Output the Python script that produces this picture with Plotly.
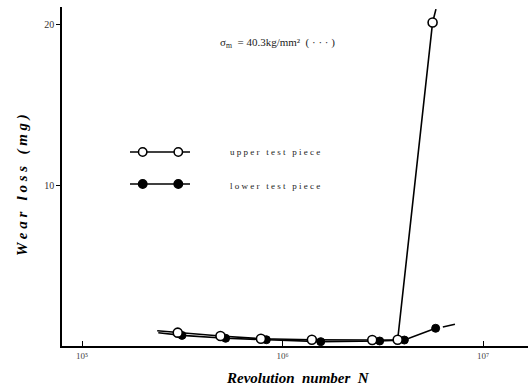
import plotly.graph_objects as go

# Data
upper_N = [3.0e5, 4.9e5, 7.8e5, 1.4e6, 2.8e6, 3.75e6, 5.6e6]
upper_W = [0.83, 0.62, 0.45, 0.39, 0.37, 0.39, 20.1]
lower_N = [3.15e5, 5.2e5, 8.3e5, 1.55e6, 3.05e6, 4.05e6, 5.8e6]
lower_W = [0.66, 0.48, 0.39, 0.27, 0.31, 0.37, 1.10]

# line extensions beyond the measured points
upper_start = (2.37e5, 0.95)
upper_end = (5.82e6, 20.93)
lower_start = (2.4e5, 0.82)
lower_dash = ([6.3e6, 7.24e6], [1.18, 1.35])

x_ticks = [1e5, 1e6, 1e7]
x_tick_text = ["10⁵", "10⁶", "10⁷"]
y_ticks = [10, 20]

serif = "Liberation Serif, Times New Roman, serif"

fig = go.Figure()

# connecting lines
fig.add_trace(go.Scatter(
    x=[upper_start[0]] + upper_N + [upper_end[0]],
    y=[upper_start[1]] + upper_W + [upper_end[1]],
    mode="lines", line=dict(color="black", width=1.6), hoverinfo="skip"))
fig.add_trace(go.Scatter(
    x=[lower_start[0]] + lower_N,
    y=[lower_start[1]] + lower_W,
    mode="lines", line=dict(color="black", width=1.6), hoverinfo="skip"))
fig.add_trace(go.Scatter(
    x=lower_dash[0], y=lower_dash[1],
    mode="lines", line=dict(color="black", width=1.6), hoverinfo="skip"))

# markers
fig.add_trace(go.Scatter(
    x=lower_N, y=lower_W, mode="markers",
    marker=dict(symbol="circle", size=8, color="black",
                line=dict(color="black", width=1)),
    name="lower test piece"))
fig.add_trace(go.Scatter(
    x=upper_N, y=upper_W, mode="markers",
    marker=dict(symbol="circle", size=9, color="white",
                line=dict(color="black", width=1.6)),
    name="upper test piece"))

# manual legend (paper coords)
def px2x(px):
    return (px - 62) / 466

def py2y(py):
    return (346 - py) / 339

shapes = []
for row_y, filled in [(152, False), (184, True)]:
    yy = py2y(row_y)
    shapes.append(dict(type="line", xref="paper", yref="paper",
                       x0=px2x(130), x1=px2x(190), y0=yy, y1=yy,
                       line=dict(color="black", width=1.6)))
    for cx in (142.7, 178.3):
        shapes.append(dict(type="circle", xref="paper", yref="paper",
                           x0=px2x(cx - 4.2), x1=px2x(cx + 4.2),
                           y0=py2y(row_y + 4.2), y1=py2y(row_y - 4.2),
                           fillcolor="black" if filled else "white",
                           line=dict(color="black", width=1.5)))

annotations = [
    dict(text="u p p e r   t e s t   p i e c e", x=px2x(228), y=py2y(152),
         xref="paper", yref="paper", xanchor="left", yanchor="middle",
         showarrow=False, font=dict(family=serif, size=9, color="#222")),
    dict(text="l o w e r   t e s t   p i e c e", x=px2x(228), y=py2y(186),
         xref="paper", yref="paper", xanchor="left", yanchor="middle",
         showarrow=False, font=dict(family=serif, size=9, color="#222")),
    dict(text="σ<sub>m</sub>  = 40.3kg/mm²  ( · · · )", x=px2x(218), y=py2y(43),
         xref="paper", yref="paper", xanchor="left", yanchor="middle",
         showarrow=False, font=dict(family=serif, size=11, color="#222")),
    dict(text="<b><i>W e a r   l o s s   ( m g )</i></b>", x=px2x(22), y=py2y(185),
         xref="paper", yref="paper", xanchor="center", yanchor="middle",
         textangle=-90, showarrow=False,
         font=dict(family=serif, size=15, color="black")),
    dict(text="<b><i>Revolution  number  N</i></b>", x=px2x(298),
         y=py2y(378), xref="paper", yref="paper", xanchor="center",
         yanchor="middle", showarrow=False,
         font=dict(family=serif, size=15, color="black")),
]

fig.update_layout(
    width=528, height=389,
    margin=dict(l=62, r=0, t=7, b=43),
    paper_bgcolor="white", plot_bgcolor="white",
    showlegend=False,
    shapes=shapes, annotations=annotations,
    xaxis=dict(type="log", range=[4.90, 7.224], showgrid=False, zeroline=False,
               showline=True, linecolor="black", linewidth=1.5,
               tickmode="array", tickvals=x_ticks, ticktext=x_tick_text,
               ticks="inside", ticklen=5, tickcolor="black",
               tickfont=dict(family=serif, size=9, color="#444")),
    yaxis=dict(range=[0, 21.06], showgrid=False, zeroline=False,
               showline=True, linecolor="black", linewidth=1.5,
               tickmode="array", tickvals=y_ticks,
               ticks="outside", ticklen=4, tickcolor="black",
               tickfont=dict(family=serif, size=10, color="#333")),
)

fig.write_html("out.html")
